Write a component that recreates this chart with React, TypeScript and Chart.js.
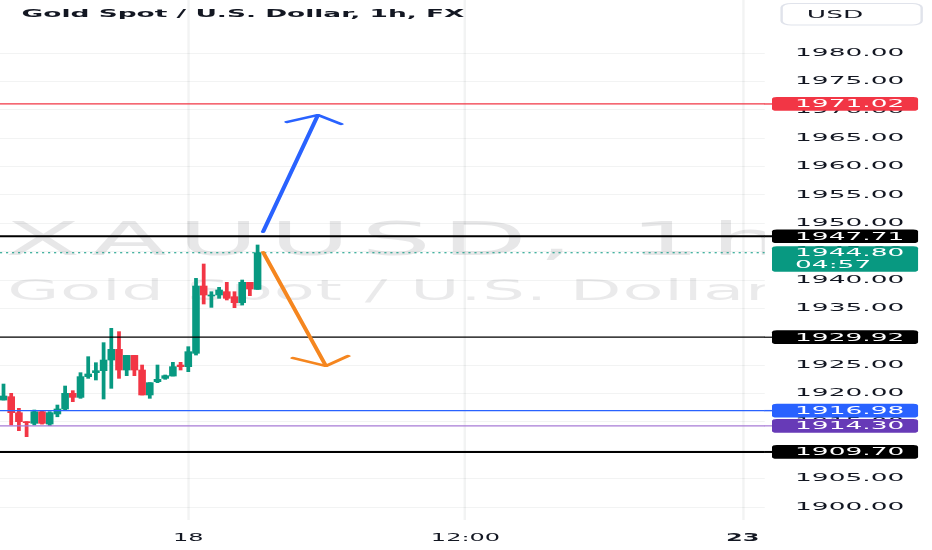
import React, { useEffect, useRef } from 'react';
import { Chart, registerables } from 'chart.js';

Chart.register(...registerables);

// ---------- data ----------
const TITLE = 'Gold Spot / U.S. Dollar, 1h, FX';
const WATERMARK_SYMBOL = 'XAUUSD, 1h';
const WATERMARK_NAME = 'Gold Spot / U.S. Dollar';
const CURRENCY = 'USD';
const COUNTDOWN = '04:57';

const candleIndex = [0, 1, 2, 3, 4, 5, 6, 7, 8, 9, 10, 11, 12, 13, 14, 15, 16, 17, 18, 19, 20, 21, 22, 23, 24, 25, 26, 27, 28, 29, 30, 31, 32, 33];
const opens = [1918.85, 1919.44, 1916.62, 1915.04, 1914.74, 1916.8, 1914.62, 1916.39, 1917.27, 1920.03, 1919.32, 1922.97, 1923.67, 1924.02, 1925.9, 1927.78, 1924.14, 1926.72, 1924.14, 1919.74, 1922.08, 1922.67, 1923.08, 1925.02, 1924.73, 1927.08, 1938.94, 1937.18, 1937.36, 1937.94, 1937.06, 1936.01, 1939.59, 1938.35];
const highs = [1921.67, 1920.03, 1917.39, 1915.04, 1917.09, 1916.9, 1916.8, 1917.97, 1921.32, 1920.5, 1923.67, 1926.49, 1925.43, 1928.96, 1931.48, 1930.9, 1926.72, 1926.72, 1925.02, 1921.91, 1925.02, 1923.26, 1925.49, 1925.49, 1928.25, 1940.29, 1942.82, 1937.94, 1938.71, 1939.59, 1937.94, 1940.0, 1939.59, 1946.17];
const lows = [1918.85, 1914.45, 1913.45, 1912.39, 1914.45, 1914.6, 1914.33, 1915.9, 1917.09, 1918.56, 1919.15, 1922.67, 1922.38, 1919.03, 1920.91, 1922.67, 1923.14, 1923.14, 1919.74, 1919.15, 1921.91, 1922.5, 1923.08, 1924.14, 1923.85, 1926.78, 1935.77, 1935.18, 1936.77, 1936.48, 1935.12, 1935.59, 1937.24, 1938.35];
const closes = [1919.56, 1916.62, 1915.04, 1914.86, 1916.8, 1914.74, 1916.62, 1917.27, 1920.03, 1919.32, 1922.97, 1923.44, 1924.02, 1925.9, 1927.78, 1924.14, 1926.72, 1924.14, 1919.74, 1921.91, 1922.5, 1923.14, 1924.73, 1924.73, 1927.37, 1938.94, 1937.36, 1937.36, 1938.24, 1936.77, 1936.01, 1939.59, 1938.41, 1944.8];

const levelPrices = [1971.02, 1947.71, 1929.92, 1916.98, 1914.3, 1909.7];

const upShaftX = [33.7, 40.84];
const upShaftY = [1948.46, 1969.07];
const upHeadX = [36.82, 40.84, 43.83];
const upHeadY = [1967.84, 1969.07, 1967.49];
const downShaftX = [33.7, 41.88];
const downShaftY = [1944.93, 1924.85];
const downHeadX = [37.6, 41.88, 44.74];
const downHeadY = [1926.26, 1924.85, 1926.61];

const xTickValues = [24, 60, 96];
const xTickLabels = ['18', '12:00', '23'];
const xBoldTick = 96;
const yTickValues = [1900, 1905, 1910, 1915, 1920, 1925, 1930, 1935, 1940, 1945, 1950, 1955, 1960, 1965, 1970, 1975, 1980];

// ---------- styles / layout ----------
const FONT = '"DejaVu Sans", sans-serif';
const UP = '#089981';
const DOWN = '#f23645';
const TEXT = '#131722';
const GRID = 'rgba(42,46,57,0.06)';
const levelLineColors = ['#f23645', '#000000', '#000000', '#2962ff', '#a77bd6', '#000000'];
const levelBoxColors = ['#f23645', '#000000', '#000000', '#2962ff', '#673ab7', '#000000'];
const levelLineWidths = [1.3, 2, 1.2, 1.4, 1.2, 2];

const OUT_W = 932;
const OUT_H = 550;
const LOGICAL_W = 388;
const STRETCH = OUT_W / LOGICAL_W;
const PLOT_RIGHT = 772 / STRETCH;
const AXIS_W = LOGICAL_W - PLOT_RIGHT;
const X_AXIS_H = 30;
const X_MIN = -0.455;
const X_MAX = 99.81;
const Y_MIN = 1897.71;
const Y_MAX = 1989.34;
const LABEL_PAD = 9.6;

const pts = (xs: number[], ys: number[]) => xs.map((x, i) => ({ x, y: ys[i] }));

const overlayPlugin = {
  id: 'overlay',
  beforeDatasetsDraw(chart: any) {
    const { ctx, chartArea: a } = chart;
    ctx.save();
    ctx.beginPath();
    ctx.rect(a.left, a.top, a.right - a.left, a.bottom - a.top);
    ctx.clip();
    ctx.fillStyle = 'rgba(19,23,34,0.1)';
    ctx.textAlign = 'left';
    ctx.textBaseline = 'alphabetic';
    ctx.font = `46px ${FONT}`;
    ctx.letterSpacing = '4.5px';
    ctx.fillText(WATERMARK_SYMBOL, 2, 255);
    ctx.fillStyle = 'rgba(19,23,34,0.09)';
    ctx.font = `28px ${FONT}`;
    ctx.letterSpacing = '0.3px';
    ctx.fillText(WATERMARK_NAME, 3, 300);
    ctx.letterSpacing = '0px';
    ctx.restore();
    ctx.beginPath();
  },
  afterDraw(chart: any) {
    const { ctx, chartArea: a, scales } = chart;
    const ys = scales.y;
    const boxW = 382.2 - a.right;
    ctx.save();
    // clean edge between the pane and the price scale
    const edge = a.right - 3;
    ctx.fillStyle = '#ffffff';
    ctx.fillRect(edge, 0, a.right - edge, chart.height);
    levelPrices.forEach((p, i) => {
      const py = ys.getPixelForValue(p);
      ctx.strokeStyle = levelLineColors[i];
      ctx.lineWidth = levelLineWidths[i];
      ctx.beginPath();
      ctx.moveTo(edge - 0.2, py);
      ctx.lineTo(a.right, py);
      ctx.stroke();
    });
    ctx.textAlign = 'left';
    ctx.textBaseline = 'middle';
    ctx.font = `11px ${FONT}`;
    levelPrices.forEach((p, i) => {
      const py = ys.getPixelForValue(p);
      ctx.fillStyle = levelBoxColors[i];
      ctx.beginPath();
      ctx.roundRect(a.right, py - 6.85, boxW, 13.7, 2);
      ctx.fill();
      ctx.fillStyle = '#ffffff';
      ctx.fillText(p.toFixed(2), a.right + LABEL_PAD, py + 0.5);
    });
    const last = closes[closes.length - 1];
    const lp = ys.getPixelForValue(last);
    ctx.fillStyle = UP;
    ctx.beginPath();
    ctx.roundRect(a.right, lp - 6.6, boxW, 25.7, 2);
    ctx.fill();
    ctx.fillStyle = '#ffffff';
    ctx.fillText(last.toFixed(2), a.right + LABEL_PAD, lp + 0.5);
    ctx.fillText(COUNTDOWN, a.right + LABEL_PAD, lp + 12.5);

    // title
    ctx.textBaseline = 'alphabetic';
    ctx.font = `bold 11px ${FONT}`;
    ctx.fillStyle = TEXT;
    ctx.fillText(TITLE, 9, 17.3);

    // currency box
    ctx.fillStyle = '#ffffff';
    ctx.strokeStyle = '#e0e3eb';
    ctx.lineWidth = 1;
    ctx.beginPath();
    ctx.roundRect(325.4, 3.5, 58.3, 21.5, 4);
    ctx.fill();
    ctx.stroke();
    ctx.fillStyle = TEXT;
    ctx.font = `11px ${FONT}`;
    ctx.fillText(CURRENCY, 335.9, 18.3);
    ctx.restore();
  },
};

export default function App() {
  const ref = useRef<HTMLCanvasElement>(null);

  useEffect(() => {
    const canvas = ref.current;
    if (!canvas) return;
    canvas.width = LOGICAL_W;
    canvas.height = OUT_H;

    const candleColors = candleIndex.map((i) => (closes[i] >= opens[i] ? UP : DOWN));
    const lastClose = closes[closes.length - 1];

    const levelDatasets = levelPrices.map((p, i) => ({
      type: 'line' as const,
      data: [{ x: X_MIN, y: p }, { x: X_MAX, y: p }],
      borderColor: levelLineColors[i],
      borderWidth: levelLineWidths[i],
      pointRadius: 0,
      order: 1,
    }));

    const chart = new Chart(canvas, {
      type: 'bar',
      data: {
        datasets: [
          {
            type: 'bar',
            data: candleIndex.map((i) => ({ x: i, y: [lows[i], highs[i]] })) as any,
            backgroundColor: candleColors,
            barThickness: 0.9,
            grouped: false,
            order: 3,
          },
          {
            type: 'bar',
            data: candleIndex.map((i) => ({ x: i, y: [opens[i], closes[i]] })) as any,
            backgroundColor: candleColors,
            barThickness: 2.5,
            minBarLength: 1,
            grouped: false,
            order: 2,
          },
          ...levelDatasets,
          {
            type: 'line',
            data: [{ x: X_MIN, y: lastClose }, { x: X_MAX, y: lastClose }],
            borderColor: UP,
            borderWidth: 1,
            borderDash: [0.9, 1.6],
            pointRadius: 0,
            order: 1,
          },
          {
            type: 'line',
            data: pts(upShaftX, upShaftY),
            borderColor: '#2962ff',
            borderWidth: 1.8,
            borderCapStyle: 'round',
            pointRadius: 0,
            order: 0,
          },
          {
            type: 'line',
            data: pts(upHeadX, upHeadY),
            borderColor: '#2962ff',
            borderWidth: 2.2,
            borderCapStyle: 'round',
            borderJoinStyle: 'round',
            pointRadius: 0,
            order: 0,
          },
          {
            type: 'line',
            data: pts(downShaftX, downShaftY),
            borderColor: '#f5861f',
            borderWidth: 1.8,
            borderCapStyle: 'round',
            pointRadius: 0,
            order: 0,
          },
          {
            type: 'line',
            data: pts(downHeadX, downHeadY),
            borderColor: '#f5861f',
            borderWidth: 2.2,
            borderCapStyle: 'round',
            borderJoinStyle: 'round',
            pointRadius: 0,
            order: 0,
          },
        ] as any,
      },
      options: {
        animation: false,
        responsive: false,
        devicePixelRatio: 1,
        events: [],
        layout: { padding: 0 },
        plugins: { legend: { display: false }, tooltip: { enabled: false }, title: { display: false } },
        scales: {
          x: {
            type: 'linear',
            min: X_MIN,
            max: X_MAX,
            offset: false,
            afterBuildTicks: (s: any) => {
              s.ticks = xTickValues.map((v) => ({ value: v }));
            },
            afterFit: (s: any) => {
              s.height = X_AXIS_H;
              s.paddingLeft = 0;
              s.paddingRight = 0;
            },
            grid: {
              color: (c: any) => (c.tick && xTickValues.includes(c.tick.value) ? GRID : 'rgba(0,0,0,0)'),
              drawTicks: false,
              offset: false,
            },
            border: { display: false },
            ticks: {
              autoSkip: false,
              maxRotation: 0,
              padding: 12,
              color: TEXT,
              font: (c: any) => ({
                family: FONT,
                size: 10,
                weight: c.tick && c.tick.value === xBoldTick ? 'bold' : 'normal',
              }),
              callback: (v: any) => {
                const k = xTickValues.indexOf(Number(v));
                return k >= 0 ? xTickLabels[k] : '';
              },
            },
          },
          y: {
            type: 'linear',
            position: 'right',
            min: Y_MIN,
            max: Y_MAX,
            afterBuildTicks: (s: any) => {
              s.ticks = yTickValues.map((v) => ({ value: v }));
            },
            afterFit: (s: any) => {
              s.width = AXIS_W;
              s.paddingTop = 0;
              s.paddingBottom = 0;
            },
            grid: {
              color: (c: any) => (c.tick && yTickValues.includes(c.tick.value) ? GRID : 'rgba(0,0,0,0)'),
              drawTicks: false,
            },
            border: { display: false, width: 0, color: 'rgba(0,0,0,0)' },
            ticks: {
              padding: LABEL_PAD,
              color: TEXT,
              font: { family: FONT, size: 11 },
              callback: (v: any) => Number(v).toFixed(2),
            },
          },
        },
      } as any,
      plugins: [overlayPlugin],
    });

    // stretch the whole drawing horizontally, like the reference screenshot
    canvas.width = OUT_W;
    canvas.height = OUT_H;
    canvas.style.width = `${OUT_W}px`;
    canvas.style.height = `${OUT_H}px`;
    const ctx = canvas.getContext('2d');
    if (ctx) ctx.setTransform(STRETCH, 0, 0, 1, 0, 0);
    chart.draw();

    return () => chart.destroy();
  }, []);

  return (
    <div style={{ position: 'fixed', left: 0, top: 0, width: OUT_W, height: OUT_H, background: '#ffffff' }}>
      <canvas ref={ref} />
    </div>
  );
}
